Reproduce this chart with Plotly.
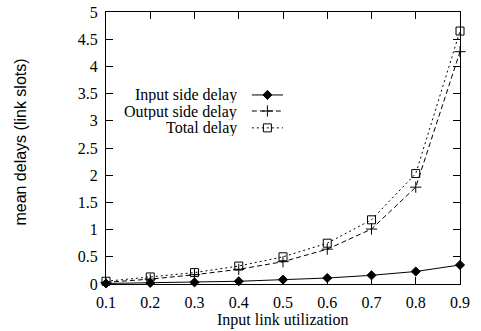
import plotly.graph_objects as go

utilization = [0.1, 0.2, 0.3, 0.4, 0.5, 0.6, 0.7, 0.8, 0.9]
input_delay = [0.01, 0.02, 0.03, 0.05, 0.08, 0.11, 0.16, 0.23, 0.35]
output_delay = [0.03, 0.09, 0.17, 0.27, 0.41, 0.64, 1.01, 1.78, 4.27]
total_delay = [0.05, 0.13, 0.21, 0.33, 0.50, 0.75, 1.18, 2.03, 4.65]
series_names = ["Input side delay", "Output side delay", "Total delay"]
y_ticks = [0, 0.5, 1, 1.5, 2, 2.5, 3, 3.5, 4, 4.5, 5]
y_tick_labels = ["0", "0.5", "1", "1.5", "2", "2.5", "3", "3.5", "4", "4.5", "5"]

FONT = "Liberation Serif"
styles = [
    dict(dash="solid", symbol="diamond", size=7),
    dict(dash="5px,3px", symbol="cross-thin", size=8),
    dict(dash="2px,3px", symbol="square-open", size=8),
]
values = [input_delay, output_delay, total_delay]

fig = go.Figure()
for name, ys, st in zip(series_names, values, styles):
    fig.add_trace(go.Scatter(
        x=utilization, y=ys, mode="lines+markers", name=name,
        line=dict(color="black", width=1, dash=st["dash"]),
        marker=dict(symbol=st["symbol"], size=st["size"], color="black",
                    line=dict(color="black", width=1)),
        showlegend=False, cliponaxis=False,
    ))

# Legend drawn manually (text left of sample, as in the reference)
leg_y = [0.695, 0.636, 0.574]
for name, ly, st in zip(series_names, leg_y, styles):
    fig.add_trace(go.Scatter(
        x=[0.412, 0.500], y=[ly, ly], mode="lines", xaxis="x2", yaxis="y2",
        line=dict(color="black", width=1, dash=st["dash"]), showlegend=False,
        hoverinfo="skip",
    ))
    fig.add_trace(go.Scatter(
        x=[0.456], y=[ly], mode="markers", xaxis="x2", yaxis="y2",
        marker=dict(symbol=st["symbol"], size=st["size"], color="black",
                    line=dict(color="black", width=1)),
        showlegend=False, hoverinfo="skip",
    ))
    fig.add_annotation(x=0.373, y=ly, xref="paper", yref="paper", text=name,
                       showarrow=False, xanchor="right", yanchor="middle",
                       height=17, borderpad=0,
                       font=dict(family=FONT, size=16, color="black"))

# Axis titles
fig.add_annotation(x=0.5, y=-0.132, xref="paper", yref="paper",
                   text="Input link utilization", showarrow=False,
                   xanchor="center", yanchor="middle",
                   font=dict(family=FONT, size=16, color="black"))
fig.add_annotation(x=-0.24, y=0.52, xref="paper", yref="paper",
                   text="mean delays (link slots)", showarrow=False, textangle=-90,
                   xanchor="center", yanchor="middle",
                   font=dict(family="Liberation Sans Narrow, Liberation Sans", size=16,
                             color="black"))

axis_common = dict(showgrid=False, zeroline=False, showline=True, linecolor="black",
                   linewidth=1, mirror="ticks", ticks="inside", ticklen=7,
                   tickcolor="black", tickwidth=1, automargin=False,
                   tickfont=dict(family=FONT, size=16, color="black"))

fig.update_layout(
    width=481, height=331,
    margin=dict(l=106, r=21, t=12, b=47),
    paper_bgcolor="white", plot_bgcolor="white",
    xaxis=dict(range=[0.1, 0.9], tickvals=utilization,
               ticktext=[f"{u:.1f}" for u in utilization],
               ticklabelstandoff=4, **axis_common),
    yaxis=dict(range=[0, 5], tickvals=y_ticks, ticktext=y_tick_labels,
               ticklabelstandoff=4, **axis_common),
    xaxis2=dict(range=[0, 1], overlaying="x", visible=False),
    yaxis2=dict(range=[0, 1], overlaying="y", visible=False),
)

fig.write_html("out.html", config={"displayModeBar": False},
               post_script="document.body.style.margin='0';document.body.style.overflow='hidden';")
